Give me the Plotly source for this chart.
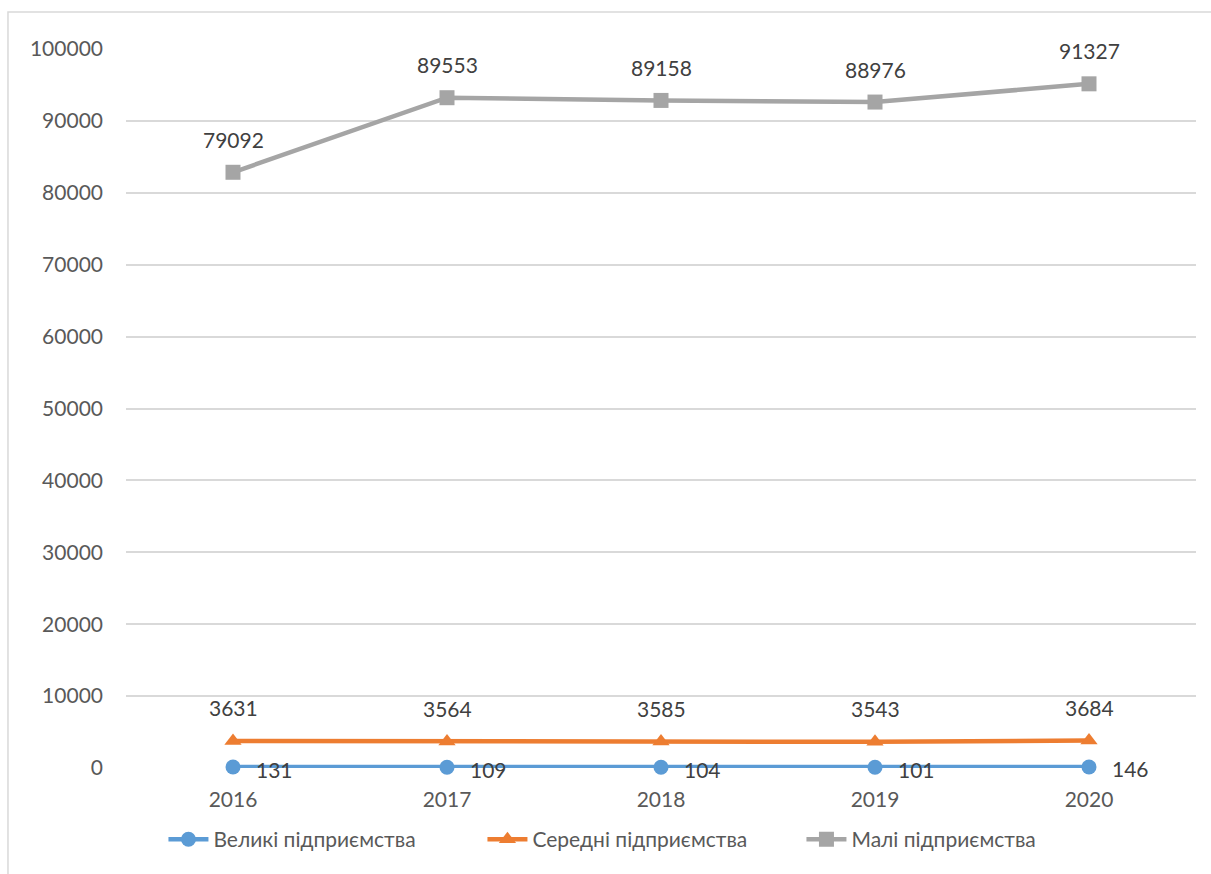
import plotly.graph_objects as go
import numpy as np

years = ["2016", "2017", "2018", "2019", "2020"]
large = [131, 109, 104, 101, 146]
medium = [3631, 3564, 3585, 3543, 3684]
small = [79092, 89553, 89158, 88976, 91327]

series = [
    ("Великі підприємства", large, "#5B9BD5", "circle"),
    ("Середні підприємства", medium, "#ED7D31", "triangle-up"),
    ("Малі підприємства", small, "#A5A5A5", "square"),
]

font_family = "Lato, 'Open Sans', sans-serif"
label_font = dict(family=font_family, size=21, color="#404040")

fig = go.Figure()
for name, vals, color, symbol in series:
    fig.add_trace(go.Scatter(
        x=years, y=vals, name=name,
        stackgroup="total", fill="none",
        mode="lines+markers",
        line=dict(color=color, width=4.5),
        marker=dict(symbol=symbol, size=15, color=color),
        cliponaxis=False,
        hoverinfo="x+y+name",
    ))

# data labels placed at the stacked position of each point
cumulative = np.cumsum([large, medium, small], axis=0)
annotations = []
for i, (name, vals, color, symbol) in enumerate(series):
    for j, v in enumerate(vals):
        ypos = float(cumulative[i][j])
        if i == 0:
            annotations.append(dict(
                x=j, y=ypos, xref="x", yref="y", text=str(v), showarrow=False,
                xanchor="left", yanchor="middle", xshift=21, yshift=-2,
                font=label_font,
            ))
        else:
            annotations.append(dict(
                x=j, y=ypos, xref="x", yref="y", text=str(v), showarrow=False,
                xanchor="center", yanchor="middle", yshift=33,
                font=label_font,
            ))

fig.update_layout(
    width=1211, height=874,
    paper_bgcolor="white", plot_bgcolor="white",
    margin=dict(l=126, r=15, t=49, b=106),
    font=dict(family=font_family, size=21, color="#595959"),
    xaxis=dict(
        type="category", range=[-0.5, 4.5],
        showgrid=False, showline=False, zeroline=False,
        ticks="", ticklabelstandoff=17,
        tickfont=dict(size=21, color="#595959"),
    ),
    yaxis=dict(
        range=[0, 100000], dtick=10000,
        showgrid=True, gridcolor="#D9D9D9", gridwidth=1.5,
        zeroline=False, showline=False, ticks="",
        tickformat="d", ticklabelstandoff=22,
        tickfont=dict(size=21, color="#595959"),
    ),
    legend=dict(
        orientation="h",
        x=0.035, xanchor="left", y=-0.071, yanchor="top",
        font=dict(size=21, color="#595959"),
        traceorder="normal", itemwidth=40,
        entrywidth=264, entrywidthmode="pixels",
    ),
    annotations=annotations,
    showlegend=True,
    shapes=[dict(
        type="rect", xref="paper", yref="paper",
        x0=-0.1103, x1=1.1, y0=-0.2, y1=1.0515,
        line=dict(color="#D9D9D9", width=1.5), fillcolor="rgba(0,0,0,0)",
        layer="below",
    )],
)

fig.write_html("out.html")
